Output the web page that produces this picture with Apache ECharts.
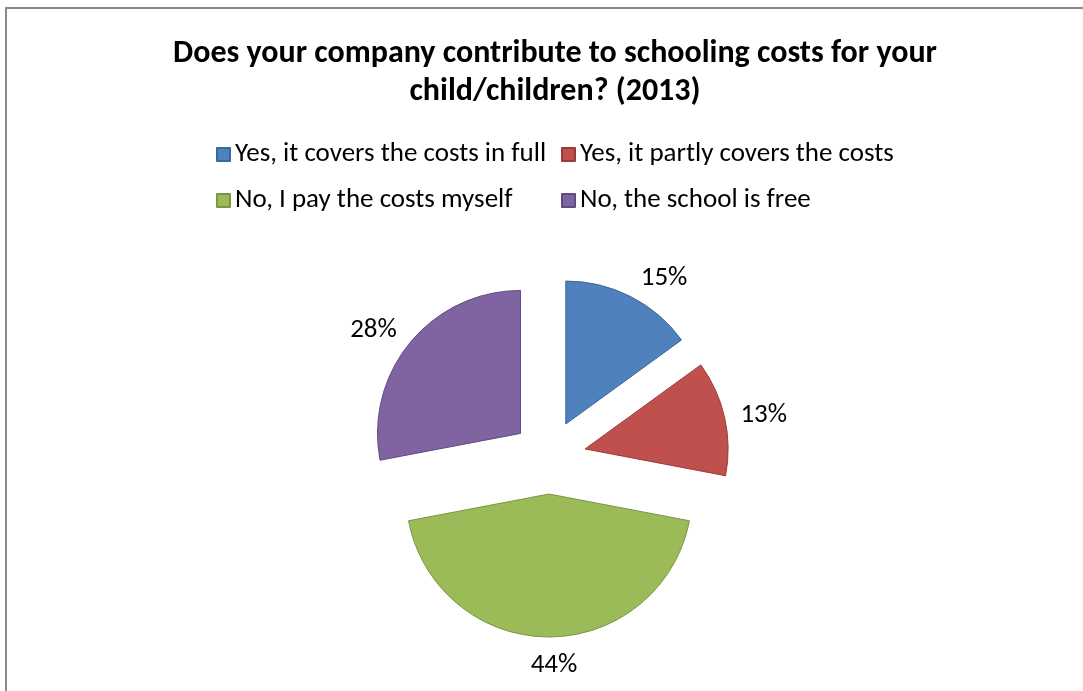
<!DOCTYPE html>
<html>
<head>
<meta charset="utf-8">
<script src="https://cdn.jsdelivr.net/npm/echarts@6/dist/echarts.min.js"></script>
<style>
  html, body { margin: 0; padding: 0; background: #fff; }
  #chart { width: 1083px; height: 691px; }
</style>
</head>
<body>
<div id="chart"></div>
<script>
// Survey answers and their shares (percent)
const categories = [
  'Yes, it covers the costs in full',
  'Yes, it partly covers the costs',
  'No, I pay the costs myself',
  'No, the school is free'
];
const shares = [15, 13, 44, 28];
const fillColors = ['#4F81BD', '#C0504D', '#9BBB59', '#8064A2'];
const edgeColors = ['#3A679C', '#9A3B38', '#7A9645', '#604A80'];

// Small vertical nudges for the outside percentage labels
const labelNudgeY = [-9, 0, 17, -5];

const FONT = 'Carlito, Lato, "Open Sans", sans-serif';

const chart = echarts.init(document.getElementById('chart'), null, { renderer: 'canvas' });

const pieData = categories.map((name, i) => ({
  name,
  value: shares[i],
  selected: true,
  itemStyle: { color: fillColors[i], borderColor: edgeColors[i], borderWidth: 1 }
}));

const legendText = { fontFamily: FONT, fontSize: 27, color: '#000', lineHeight: 24 };

chart.setOption({
  animation: false,
  backgroundColor: '#fff',
  graphic: [{
    type: 'rect',
    shape: { x: 6, y: 8, width: 1200, height: 800 },
    style: { fill: 'none', stroke: '#8a8a8a', lineWidth: 2 },
    silent: true
  }],
  title: {
    text: 'Does your company contribute to schooling costs for your\nchild/children? (2013)',
    left: 550,
    top: 30,
    textAlign: 'center',
    textStyle: { fontFamily: FONT, fontSize: 32, fontWeight: 'bold', color: '#000', lineHeight: 38 }
  },
  legend: [
    {
      data: [categories[0], categories[2]],
      orient: 'vertical',
      left: 211,
      top: 136,
      itemWidth: 13,
      itemHeight: 13,
      itemGap: 19,
      icon: 'rect',
      selectedMode: false,
      textStyle: legendText
    },
    {
      data: [categories[1], categories[3]],
      orient: 'vertical',
      left: 556,
      top: 136,
      itemWidth: 13,
      itemHeight: 13,
      itemGap: 19,
      icon: 'rect',
      selectedMode: false,
      textStyle: legendText
    }
  ],
  series: [{
    type: 'pie',
    center: [549, 457],
    radius: 143,
    startAngle: 90,
    clockwise: true,
    selectedMode: 'multiple',
    selectedOffset: 37,
    avoidLabelOverlap: false,
    data: pieData,
    label: {
      show: true,
      position: 'outside',
      formatter: '{c}%',
      fontFamily: FONT,
      fontSize: 27,
      color: '#000'
    },
    labelLine: { show: false, length: 11, length2: 0 },
    labelLayout: (params) => {
      const i = params.dataIndex;
      const layout = { dy: labelNudgeY[i] };
      if (i === 2) layout.align = 'center';
      return layout;
    },
    emphasis: { disabled: true },
    select: { disabled: false, itemStyle: {} }
  }]
});
</script>
</body>
</html>
